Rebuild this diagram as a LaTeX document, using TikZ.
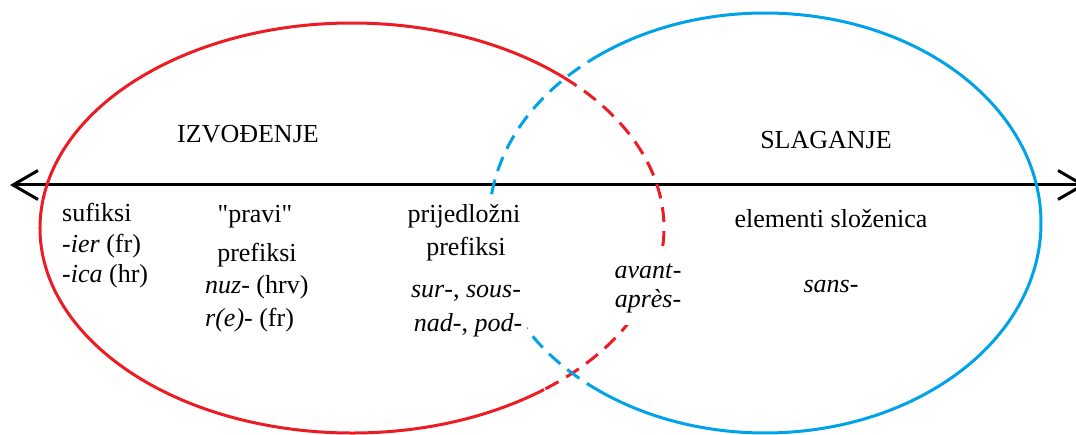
\documentclass[tikz,border=0pt]{standalone}
\usepackage{fontspec}
\setmainfont{Liberation Serif}
\usetikzlibrary{arrows.meta}
\definecolor{pred}{RGB}{237,28,36}
\definecolor{pblue}{RGB}{0,162,232}
\begin{document}
\begin{tikzpicture}[x=1pt,y=-1pt,
  lbl/.style={font=\fontsize{26}{30}\selectfont, inner sep=0pt},
  cover/.style={lbl, fill=white, text height=20pt, text depth=7pt, inner xsep=5pt, inner ysep=8pt},
  axisline/.style={line width=3pt, black, <->, >={Straight Barb[length=25pt,width=29pt]}},
  redline/.style={line width=3pt, pred},
  blueline/.style={line width=3pt, pblue},
  dashedline/.style={dash pattern=on 15pt off 9pt}]
\useasboundingbox (0,0) rectangle (1076,435);
\clip (0,0) rectangle (1076,435);

% axis
\coordinate (L) at (10,185);
\coordinate (R) at (1086,185);
\draw[axisline] (L) -- (R);

% centres of the two sets
\coordinate (rc) at (352,228);
\coordinate (bc) at (765,223);

% red ellipse (IZVODENJE): solid outer part, dashed part inside the blue one
\draw[redline] (rc) ++(52:312 and 205)
  arc[start angle=52, end angle=312.8, x radius=312, y radius=205];
\draw[redline, dashedline] (rc) ++(-47.2:312 and 205)
  arc[start angle=-47.2, end angle=52, x radius=312, y radius=205];

% blue ellipse (SLAGANJE): solid outer part, dashed part inside the red one
\draw[blueline] (bc) ++(230.4:276 and 210)
  arc[start angle=230.4, end angle=486.8, x radius=276, y radius=210];
\draw[blueline, dashedline] (bc) ++(126.8:276 and 210)
  arc[start angle=126.8, end angle=230.4, x radius=276, y radius=210];

% titles
\node[lbl, anchor=base] (izv) at (248,143) {IZVOĐENJE};
\node[lbl, anchor=base] (slag) at (826,149) {SLAGANJE};

% sufiksi
\node[lbl, anchor=base west] (suf1) at (62,222) {sufiksi};
\node[lbl, anchor=base west] (suf2) at (62,253) {-\textit{ier} (fr)};
\node[lbl, anchor=base west] (suf3) at (62,283) {-\textit{ica} (hr)};

% pravi prefiksi
\node[lbl, anchor=base] (pra1) at (255,223) {\textquotedbl pravi\textquotedbl};
\node[lbl, anchor=base] (pra2) at (257,262) {prefiksi};
\node[lbl, anchor=base west] (pra3) at (205,294) {\textit{nuz}- (hrv)};
\node[lbl, anchor=base west] (pra4) at (205,327) {\textit{r(e)}- (fr)};

% prijedlozni prefiksi
\node[cover, anchor=base] (pri1) at (464,223) {prijedložni};
\node[cover, anchor=base] (pri2) at (466,256) {prefiksi};
\node[cover, anchor=base] (pri3) at (466,298) {\textit{sur}-, \textit{sous}-};
\node[cover, anchor=base] (pri4) at (468,332) {\textit{nad}-, \textit{pod}-};

% avant / apres
\node[cover, anchor=base, inner ysep=10pt] (av1) at (648,279) {\textit{avant}-};
\node[cover, anchor=base, inner ysep=10pt] (av2) at (648,308) {\textit{après}-};

% slaganje
\node[lbl, anchor=base] (el) at (831,228) {elementi složenica};
\node[lbl, anchor=base] (sans) at (831,293) {\textit{sans}-};
\end{tikzpicture}
\end{document}
